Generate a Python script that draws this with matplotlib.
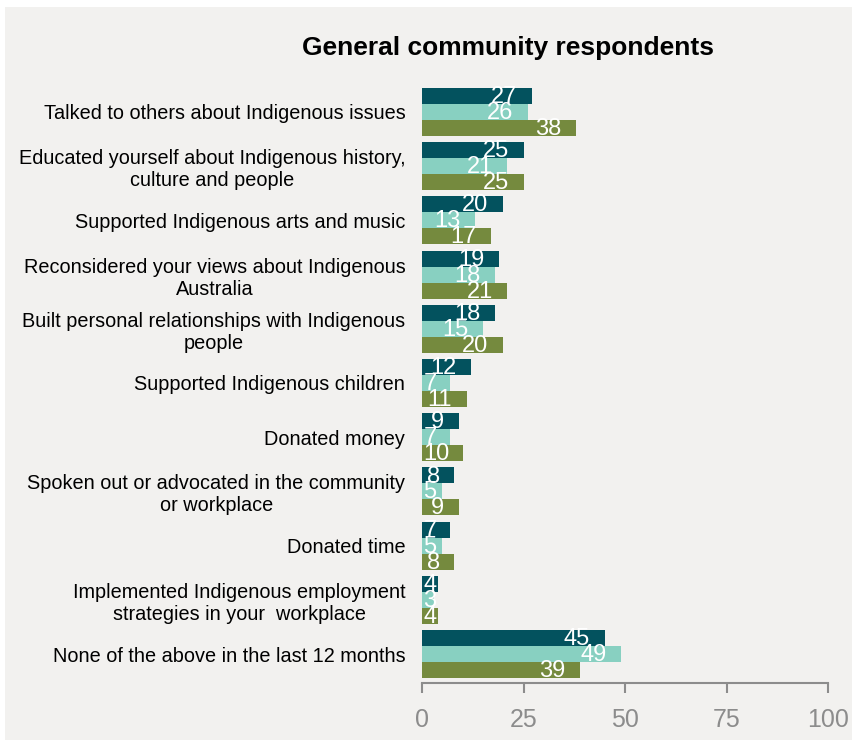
import numpy as np
import matplotlib
matplotlib.use('Agg')
from matplotlib import pyplot as plt

plt.rcParams['font.family'] = ['Liberation Sans', 'DejaVu Sans']

categories = [
    'Talked to others about Indigenous issues',
    'Educated yourself about Indigenous history,\nculture and people',
    'Supported Indigenous arts and music',
    'Reconsidered your views about Indigenous\nAustralia',
    'Built personal relationships with Indigenous\npeople',
    'Supported Indigenous children',
    'Donated money',
    'Spoken out or advocated in the community\nor workplace',
    'Donated time',
    'Implemented Indigenous employment\nstrategies in your  workplace',
    'None of the above in the last 12 months',
]
series_a = [27, 25, 20, 19, 18, 12, 9, 8, 7, 4, 45]
series_b = [26, 21, 13, 18, 15, 7, 7, 5, 5, 3, 49]
series_c = [38, 25, 17, 21, 20, 11, 10, 9, 8, 4, 39]
colors = ['#03525E', '#88D0C1', '#758A3E']
xticks = [0, 25, 50, 75, 100]

fig = plt.figure(figsize=(8.52, 7.42), dpi=100)
fig.patch.set_facecolor('white')
# grey panel
fig.add_artist(plt.Rectangle((5 / 852, 1 - 740 / 742), 847 / 852, 733 / 742,
                             transform=fig.transFigure, facecolor='#F2F1EF',
                             edgecolor='none', zorder=0))

ax = fig.add_axes([422 / 852, 1 - 683 / 742, 406 / 852, 600 / 742])
ax.set_facecolor('none')

h = 0.295
y = np.arange(len(categories))
for k, (vals, col) in enumerate(zip([series_a, series_b, series_c], colors)):
    yy = y + (k - 1) * h
    ax.barh(yy, vals, height=h, color=col, edgecolor='none')
    for yi, v in zip(yy, vals):
        s = str(v)
        xr = max(v - 3.6, len(s) * 3.2 + 0.4)
        ax.text(xr, yi + 0.02, s, ha='right', va='center', color='white', fontsize=17)

ax.set_ylim(len(categories) - 1 + 1.5 * h + 0.092, -1.5 * h - 0.092)
ax.set_xlim(0, 100)
ax.set_yticks(y)
ax.set_yticklabels(categories, fontsize=14.3, multialignment='center')
ax.tick_params(axis='y', length=0, pad=12)
ax.set_xticks(xticks)
ax.tick_params(axis='x', colors='#8C8C8C', labelsize=18, length=7, width=1.5,
               direction='out', pad=11)
for sp in ['top', 'right', 'left']:
    ax.spines[sp].set_visible(False)
ax.spines['bottom'].set_color('#8C8C8C')
ax.spines['bottom'].set_linewidth(1.5)

fig.text(508 / 852, 1 - 48 / 742, 'General community respondents',
         ha='center', va='center', fontsize=19, fontweight='bold')

fig.savefig('out.png', dpi=100)
